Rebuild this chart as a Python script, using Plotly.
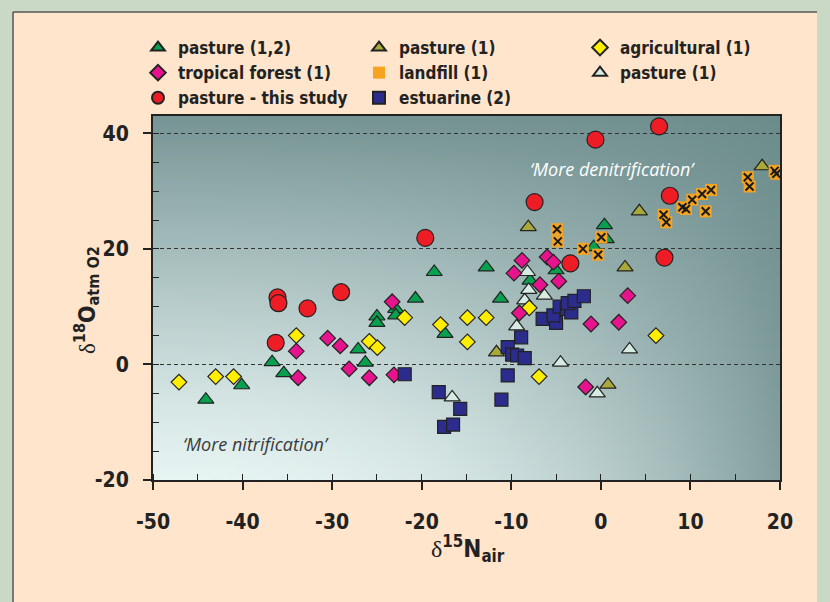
import plotly.graph_objects as go
import zlib, struct, base64

# ---------------- data ----------------
green_x = [-44.1, -40.1, -36.7, -35.4, -27.1, -26.3, -25.0, -25.0, -22.9, -22.9, -20.7, -18.6, -17.4, -12.8, -11.2, -7.9, -5.0, -0.8, 0.4, 0.6]
green_y = [-6.1, -3.6, 0.4, -1.5, 2.6, 0.3, 8.3, 7.2, 9.6, 8.5, 11.4, 16.0, 5.3, 16.8, 11.4, 14.5, 16.3, 20.3, 24.1, 21.7]

olive_x = [-11.65, -8.1, 0.8, 2.7, 4.3, 18.0]
olive_y = [2.1, 23.75, -3.5, 16.8, 26.5, 34.3]

pale_x = [-16.6, -9.4, -8.5, -8.05, -8.2, -6.3, -4.5, -0.4, 3.2]
pale_y = [-5.7, 6.6, 11.1, 12.9, 16.0, 11.9, 0.3, -5.0, 2.6]

agri_x = [-47.1, -43.0, -41.0, -34.0, -25.85, -24.95, -21.9, -17.9, -14.9, -12.8, -14.9, -8.0, -6.9, 6.15]
agri_y = [-3.05, -2.1, -2.1, 5.0, 4.0, 2.9, 8.1, 6.9, 8.1, 8.1, 3.9, 9.8, -2.1, 5.0]

trop_x = [-34.0, -33.8, -30.5, -29.1, -28.1, -25.85, -23.3, -23.1, -9.7, -8.8, -6.0, -5.3, -6.8, -4.7, -9.1, -1.1, -1.7, 2.0, 3.0]
trop_y = [2.3, -2.3, 4.55, 3.2, -0.75, -2.3, 10.85, -1.8, 15.8, 18.0, 18.6, 17.7, 13.8, 14.4, 8.9, 7.0, -3.9, 7.3, 11.9]

estu_x = [-21.9, -18.1, -15.7, -17.5, -16.5, -11.1, -10.4, -10.4, -9.9, -9.35, -8.5, -8.9, -6.5, -5.0, -5.3, -4.6, -3.8, -3.3, -3.7, -2.95, -1.9]
estu_y = [-1.7, -4.8, -7.7, -10.8, -10.4, -6.1, -1.9, 3.0, 1.7, 1.55, 1.1, 4.7, 7.9, 7.2, 8.5, 10.0, 9.6, 9.0, 10.6, 11.0, 11.8]

land_x = [-4.9, -4.8, -2.0, -0.3, 0.05, 7.0, 7.3, 9.1, 9.5, 10.2, 11.3, 12.3, 11.7, 16.4, 16.6, 19.4, 19.6]
land_y = [23.4, 21.3, 20.0, 19.0, 22.0, 25.9, 24.6, 27.2, 26.9, 28.5, 29.5, 30.2, 26.5, 32.4, 30.8, 33.5, 33.0]

study_x = [-36.1, -36.0, -36.3, -32.75, -29.0, -19.6, -7.4, -3.4, -0.6, 6.5, 7.7, 7.1]
study_y = [11.6, 10.6, 3.75, 9.7, 12.5, 21.9, 28.1, 17.5, 38.9, 41.2, 29.2, 18.5]

x_ticks = [-50, -40, -30, -20, -10, 0, 10, 20]
x_tick_labels = ["-50", "-40", "-30", "-20", "-10", "0", "10", "20"]
y_ticks = [-20, 0, 20, 40]
y_tick_labels = ["-20", "0", "20", "40"]
X_RANGE = [-50, 20]
Y_RANGE = [-20, 43]

# ---------------- layout geometry ----------------
W, H = 830, 602
L, R, T, B = 153, 780, 116, 480
def px(v):
    return (v - L) / (R - L)
def py(v):
    return (B - v) / (B - T)

FONT = "Liberation Sans Narrow, DejaVu Sans Condensed, Roboto, sans-serif"
DARK = "#222222"

# ---------------- background gradient image ----------------
def make_png(w, h):
    dark = (106, 138, 138)
    light = (230, 244, 242)
    rows = []
    for j in range(h):
        v = 1 - j / (h - 1)
        row = bytearray([0])
        for i in range(w):
            u = i / (w - 1)
            lv = (1 - 0.9 * v ** 1.2) * (1 - 0.8 * u ** 2.3)
            for k in range(3):
                row.append(int(round(dark[k] + (light[k] - dark[k]) * lv)))
        rows.append(bytes(row))
    raw = b"".join(rows)
    def chunk(tag, data):
        c = struct.pack(">I", len(data)) + tag + data
        return c + struct.pack(">I", zlib.crc32(tag + data) & 0xffffffff)
    png = b"\x89PNG\r\n\x1a\n"
    png += chunk(b"IHDR", struct.pack(">IIBBBBB", w, h, 8, 2, 0, 0, 0))
    png += chunk(b"IDAT", zlib.compress(raw, 9))
    png += chunk(b"IEND", b"")
    return "data:image/png;base64," + base64.b64encode(png).decode()

grad_src = make_png(80, 70)

fig = go.Figure()

LINE = dict(color=DARK, width=1.2)

def add(x, y, name, symbol, color, size, rank, **kw):
    fig.add_trace(go.Scatter(
        x=x, y=y, mode="markers", name=name, legendrank=rank,
        marker=dict(symbol=symbol, color=color, size=size, line=LINE),
        hoverinfo="x+y+name", **kw))

# drawing order (bottom to top)
add(green_x, green_y, "pasture (1,2)", "triangle-up", "#07a04e", 14, 1)
add(olive_x, olive_y, "pasture (1)", "triangle-up", "#a9a83a", 14, 2)
add(pale_x, pale_y, "pasture (1) ", "triangle-up", "#d6ece2", 14, 6)
add(agri_x, agri_y, "agricultural (1)", "diamond", "#ffee00", 12, 3)
add(trop_x, trop_y, "tropical forest (1)", "diamond", "#e6138c", 12, 4)
add(estu_x, estu_y, "estuarine (2)", "square", "#2b2c8c", 13, 8)
fig.add_trace(go.Scatter(
    x=land_x, y=land_y, mode="markers", name="landfill (1)", legendrank=5,
    legendgroup="landfill",
    marker=dict(symbol="square", color="#f6a31f", size=12, line=dict(width=0)),
    hoverinfo="x+y+name"))
fig.add_trace(go.Scatter(
    x=land_x, y=land_y, mode="markers", name="landfill (1)", legendgroup="landfill",
    showlegend=False,
    marker=dict(symbol="x-thin-open", color="#1a1a1a", size=8, line=dict(width=2, color="#1a1a1a")),
    hoverinfo="skip"))
add(study_x, study_y, "pasture - this study", "circle", "#ee1c25", 17, 7)

fig.add_layout_image(dict(
    source=grad_src, xref="x", yref="y", x=X_RANGE[0], y=Y_RANGE[1],
    sizex=X_RANGE[1] - X_RANGE[0], sizey=Y_RANGE[1] - Y_RANGE[0],
    sizing="stretch", xanchor="left", yanchor="top", layer="below"))

# green frame around the peach panel
GREEN = "#cad9c6"
frame = [
    (0, 0, 13, H),      # left
    (0, 0, W, 12),      # top
    (817, 0, W, H),     # right
]
for x0, y0, x1, y1 in frame:
    fig.add_shape(type="rect", xref="paper", yref="paper",
                  x0=px(x0), x1=px(x1), y0=py(y1), y1=py(y0),
                  line=dict(width=0), fillcolor=GREEN, layer="above")
fig.add_shape(type="line", xref="paper", yref="paper",
              x0=px(13), x1=px(13), y0=py(H), y1=py(12),
              line=dict(color="#555555", width=1.5), layer="above")
fig.add_shape(type="line", xref="paper", yref="paper",
              x0=px(13), x1=px(817), y0=py(12), y1=py(12),
              line=dict(color="#555555", width=1.5), layer="above")

ITAL = "Open Sans, sans-serif"
fig.add_annotation(x=1.3, y=33.9, xref="x", yref="y", showarrow=False,
                   text="\u2018More denitrification\u2019",
                   font=dict(family=ITAL, size=18, color="#ffffff", style="italic"))
fig.add_annotation(x=-38.5, y=-13.7, xref="x", yref="y", showarrow=False,
                   text="\u2018More nitrification\u2019",
                   font=dict(family=ITAL, size=18, color="#3a3a3a", style="italic"))

# axis titles
SERIF = "<span style='font-family:Liberation Serif, DejaVu Serif, serif;font-weight:normal'>\u03b4</span>"
fig.add_annotation(x=px(468), y=py(548), xref="paper", yref="paper", showarrow=False,
                   xanchor="center", yanchor="middle",
                   text=SERIF + "<sup>15</sup><b>N</b><sub>air</sub>",
                   font=dict(family=FONT, size=24, color=DARK, weight="bold"))
fig.add_annotation(x=px(86), y=py(300), xref="paper", yref="paper", showarrow=False,
                   xanchor="center", yanchor="middle", textangle=-90,
                   text=SERIF + "<sup>18</sup><b>O</b><sub>atm O2</sub>",
                   font=dict(family=FONT, size=23, color=DARK, weight="bold"))

axis_common = dict(
    showline=True, linecolor=DARK, linewidth=2, mirror=True,
    ticks="outside", ticklen=8, tickwidth=1.5, tickcolor=DARK,
    tickfont=dict(family=FONT, size=21, color=DARK, weight="bold"),
    zeroline=False,
)

fig.update_xaxes(
    range=X_RANGE, tickvals=x_ticks, ticktext=x_tick_labels, showgrid=False,
    minor=dict(dtick=5, tick0=0, ticks="inside", ticklen=6, tickwidth=1.2, tickcolor=DARK, showgrid=False),
    ticklabelstandoff=14,
    **axis_common)
fig.update_yaxes(
    range=Y_RANGE, tickvals=y_ticks, ticktext=y_tick_labels,
    showgrid=True, gridcolor="#333333", gridwidth=1,
    griddash="4px,3px",
    minor=dict(dtick=5, tick0=0, ticks="inside", ticklen=6, tickwidth=1.2, tickcolor=DARK, showgrid=False),
    ticklabelstandoff=10,
    **axis_common)

fig.update_layout(
    width=W, height=H,
    margin=dict(l=L, r=W - R, t=T, b=H - B, autoexpand=False),
    paper_bgcolor="#fee5cb", plot_bgcolor="#a9c7c5",
    font=dict(family=FONT, color=DARK),
    showlegend=True,
    legend=dict(
        orientation="h", x=px(138), y=py(30), xanchor="left", yanchor="top",
        entrywidth=176, entrywidthmode="pixels", itemsizing="constant",
        bgcolor="rgba(0,0,0,0)", traceorder="normal",
        font=dict(family=FONT, size=17, color=DARK, weight="bold"),
    ),
)

fig.write_html("out.html", config={"displayModeBar": False},
               post_script="document.body.style.margin='0';document.body.style.padding='0';")
